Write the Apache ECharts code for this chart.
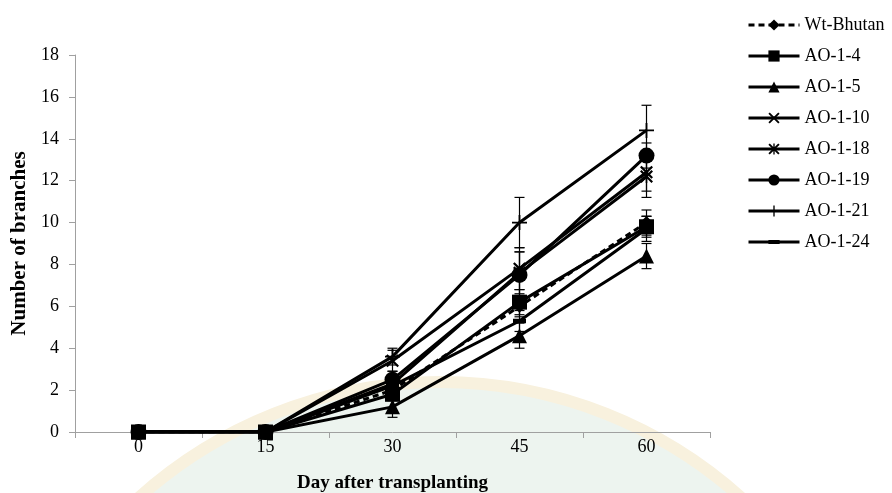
<!DOCTYPE html>
<html>
<head>
<meta charset="utf-8">
<script src="https://cdn.jsdelivr.net/npm/echarts@6/dist/echarts.min.js"></script>
<style>html,body{margin:0;padding:0;background:#fff;}#c{width:892px;height:493px;}</style>
</head>
<body>
<div id="c"></div>
<script>
const categories = ['0', '15', '30', '45', '60'];
const seriesNames = ['Wt-Bhutan', 'AO-1-4', 'AO-1-5', 'AO-1-10', 'AO-1-18', 'AO-1-19', 'AO-1-21', 'AO-1-24'];
const wtBhutan = [0, 0, 2.0, 6.0, 10.0];
const ao14 = [0, 0, 1.8, 6.2, 9.8];
const ao15 = [0, 0, 1.2, 4.6, 8.4];
const ao110 = [0, 0, 3.4, 7.8, 12.4];
const ao118 = [0, 0, 2.3, 7.6, 12.2];
const ao119 = [0, 0, 2.5, 7.5, 13.2];
const ao121 = [0, 0, 3.6, 10.0, 14.4];
const ao124 = [0, 0, 2.2, 5.3, 9.7];
const errWtBhutan = [0, 0, 0.3, 0.5, 0.6];
const errAo14 = [0, 0, 0.3, 0.6, 0.5];
const errAo15 = [0, 0, 0.5, 0.6, 0.6];
const errAo110 = [0, 0, 0.5, 1.0, 0.9];
const errAo118 = [0, 0, 0.4, 1.0, 1.0];
const errAo119 = [0, 0, 0.4, 1.1, 0.6];
const errAo121 = [0, 0, 0.4, 1.2, 1.2];
const errAo124 = [0, 0, 0.3, 0.5, 0.6];
const yTicks = ['0', '2', '4', '6', '8', '10', '12', '14', '16', '18'];

const values = [wtBhutan, ao14, ao15, ao110, ao118, ao119, ao121, ao124];
const errors = [errWtBhutan, errAo14, errAo15, errAo110, errAo118, errAo119, errAo121, errAo124];

const X_PATH = 'path://M0,1.2L1.2,0L5,3.8L8.8,0L10,1.2L6.2,5L10,8.8L8.8,10L5,6.2L1.2,10L0,8.8L3.8,5Z';
const STAR_PATH = 'path://M0,1.2L1.2,0L4.4,3.2L4.4,0L5.6,0L5.6,3.2L8.8,0L10,1.2L6.2,5L10,8.8L8.8,10L5.6,6.8L5.6,10L4.4,10L4.4,6.8L1.2,10L0,8.8L3.8,5Z';
const PLUS_PATH = 'path://M4.4,0L5.6,0L5.6,4.4L10,4.4L10,5.6L5.6,5.6L5.6,10L4.4,10L4.4,5.6L0,5.6L0,4.4L4.4,4.4Z';
const DASH_PATH = 'path://M0,0L0.01,0L0,0.01ZM0,3.2L10,3.2L10,6.8L0,6.8ZM10,10L9.99,10L10,9.99Z';

const symbols = ['diamond', 'rect', 'triangle', X_PATH, STAR_PATH, 'circle', PLUS_PATH, DASH_PATH];
const sizes = [13, 15, 15, 13, 13, 16, 15, 13];

const font = 'Liberation Serif';

const lineSeries = seriesNames.map((name, i) => ({
  name: name,
  type: 'line',
  data: values[i],
  symbol: symbols[i],
  symbolSize: sizes[i],
  symbolKeepAspect: true,
  showAllSymbol: true,
  lineStyle: { color: '#000', width: 3, type: i === 0 ? [6, 4] : 'solid' },
  itemStyle: { color: '#000' },
  z: 3,
  animation: false
}));

const errData = [];
values.forEach((vals, i) => {
  vals.forEach((v, j) => {
    if (errors[i][j] > 0) errData.push([j, v - errors[i][j], v + errors[i][j]]);
  });
});

const errSeries = {
  type: 'custom',
  name: 'err',
  data: errData,
  encode: { x: 0, y: [1, 2] },
  z: 2,
  animation: false,
  renderItem: function (params, api) {
    const lo = api.coord([api.value(0), api.value(1)]);
    const hi = api.coord([api.value(0), api.value(2)]);
    const w = 5;
    const st = { stroke: '#000', lineWidth: 1.2 };
    return {
      type: 'group',
      children: [
        { type: 'line', shape: { x1: lo[0], y1: lo[1], x2: hi[0], y2: hi[1] }, style: st },
        { type: 'line', shape: { x1: lo[0] - w, y1: lo[1], x2: lo[0] + w, y2: lo[1] }, style: st },
        { type: 'line', shape: { x1: hi[0] - w, y1: hi[1], x2: hi[0] + w, y2: hi[1] }, style: st }
      ]
    };
  }
};

const chart = echarts.init(document.getElementById('c'), null, { renderer: 'canvas' });
chart.setOption({
  backgroundColor: '#fff',
  animation: false,
  textStyle: { fontFamily: font },
  graphic: [{
    type: 'circle',
    z: -10,
    silent: true,
    shape: { cx: 440, cy: 832, r: 450 },
    style: { fill: '#edf4ef', stroke: '#f8f1de', lineWidth: 12 }
  }],
  grid: { left: 75, right: 182, top: 55, bottom: 61, outerBoundsMode: 'none', containLabel: false },
  legend: {
    data: seriesNames,
    orient: 'vertical',
    left: 747,
    top: 16,
    padding: 0,
    itemWidth: 51,
    itemHeight: 14,
    itemGap: 13,
    lineStyle: { width: 3 },
    textStyle: { fontFamily: font, fontSize: 18, color: '#000', lineHeight: 18 },
    itemStyle: { color: '#000' }
  },
  xAxis: {
    type: 'category',
    data: categories,
    boundaryGap: true,
    name: 'Day after transplanting',
    nameLocation: 'middle',
    nameGap: 42,
    nameTextStyle: { fontFamily: font, fontSize: 19, fontWeight: 'bold', color: '#000' },
    axisLine: { lineStyle: { color: '#a0a0a0', width: 1 } },
    axisTick: { show: true, length: 6, lineStyle: { color: '#a0a0a0' }, alignWithLabel: false },
    axisLabel: { fontFamily: font, fontSize: 18, color: '#000', margin: 6 },
    splitLine: { show: false }
  },
  yAxis: {
    type: 'value',
    min: 0,
    max: 18,
    interval: 2,
    name: 'Number of branches',
    nameLocation: 'middle',
    nameGap: 37,
    nameTextStyle: { fontFamily: font, fontSize: 21, fontWeight: 'bold', color: '#000' },
    axisLine: { show: true, lineStyle: { color: '#a0a0a0', width: 1 } },
    axisTick: { show: true, length: 6, lineStyle: { color: '#a0a0a0' } },
    axisLabel: { fontFamily: font, fontSize: 18, color: '#000', margin: 16,
      formatter: function (v) { return yTicks[Math.round(v / 2)]; } },
    splitLine: { show: false }
  },
  series: [errSeries].concat(lineSeries)
});
</script>
</body>
</html>
